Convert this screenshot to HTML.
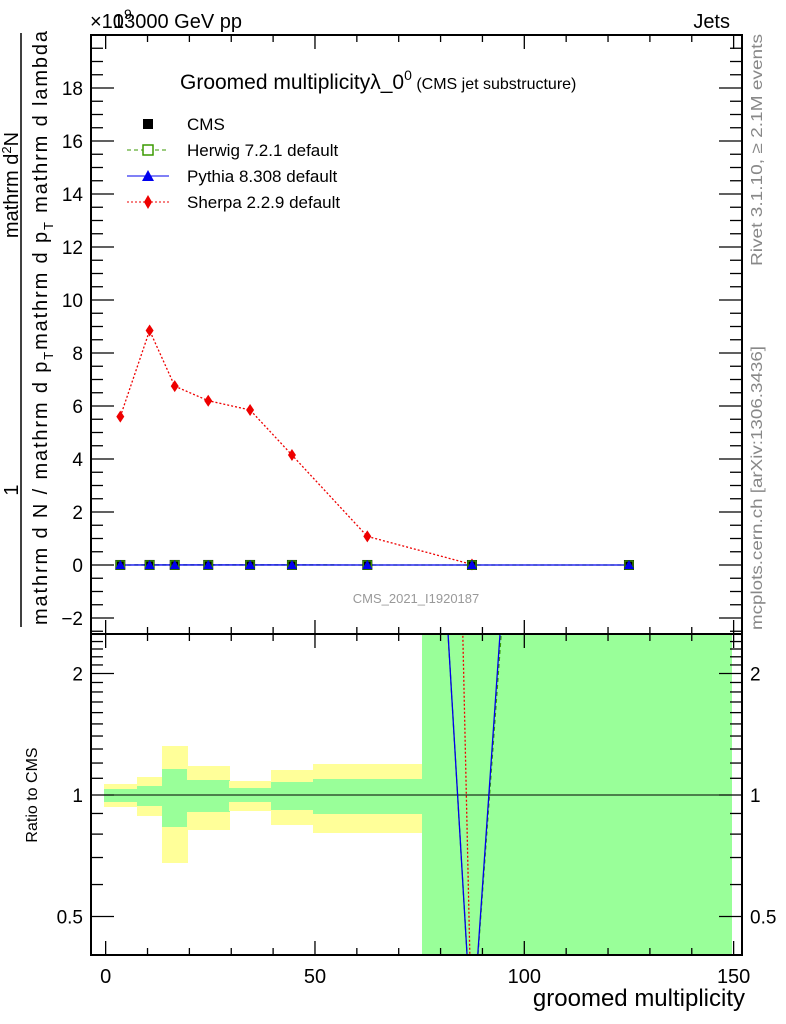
<!DOCTYPE html>
<html><head><meta charset="utf-8"><style>
html,body{margin:0;padding:0;background:#fff}
svg{display:block;font-family:"Liberation Sans",sans-serif}
</style></head><body>
<svg id="c" width="786" height="1024" viewBox="0 0 786 1024" xmlns="http://www.w3.org/2000/svg">
<g id="bands" shape-rendering="crispEdges"></g>
<g id="ratio"></g>
<g id="main"></g>
<g id="axes"></g>
<text x="90" y="28" font-size="20">×10<tspan dy="-9" font-size="14">9</tspan></text>
<text x="113" y="28" font-size="20">13000 GeV pp</text>
<text x="730" y="28" font-size="20" text-anchor="end">Jets</text>
<text x="180" y="89" font-size="21">Groomed multiplicityλ_0<tspan dy="-9" font-size="14">0</tspan><tspan dy="9" font-size="16"> (CMS jet substructure)</tspan></text>
<g>
<rect x="143" y="119" width="10" height="10" fill="#000"/>
<text x="187" y="130" font-size="17">CMS</text>
<line x1="127" y1="150" x2="169" y2="150" stroke="#3a9a00" stroke-dasharray="4,3"/>
<rect x="143" y="145" width="10" height="10" fill="#fff" stroke="#3a9a00" stroke-width="1.5"/>
<text x="187" y="156" font-size="17">Herwig 7.2.1 default</text>
<line x1="127" y1="176" x2="169" y2="176" stroke="#0000ee"/>
<polygon points="148,170 154,181 142,181" fill="#0000ee"/>
<text x="187" y="182" font-size="17">Pythia 8.308 default</text>
<line x1="127" y1="202" x2="169" y2="202" stroke="#ee0000" stroke-dasharray="2,2"/>
<polygon points="148,195 152,202 148,209 144,202" fill="#ee0000"/>
<text x="187" y="208" font-size="17">Sherpa 2.2.9 default</text>
</g>
<text x="416" y="603" font-size="13" fill="#999" text-anchor="middle">CMS_2021_I1920187</text>
<text transform="translate(762,150) rotate(-90)" font-size="16" fill="#888" text-anchor="middle" textLength="232" lengthAdjust="spacingAndGlyphs">Rivet 3.1.10, ≥ 2.1M events</text>
<text transform="translate(762,488) rotate(-90)" font-size="16" fill="#888" text-anchor="middle" textLength="284" lengthAdjust="spacingAndGlyphs">mcplots.cern.ch [arXiv:1306.3436]</text>
<g>
<line x1="21" y1="33" x2="21" y2="627" stroke="#000" stroke-width="1.5"/>
<text transform="translate(18,490) rotate(-90)" font-size="20" text-anchor="middle">1</text>
<text transform="translate(18,185) rotate(-90)" font-size="20" text-anchor="middle">mathrm d<tspan dy="-7" font-size="13">2</tspan><tspan dy="7">N</tspan></text>
<text transform="translate(47,328) rotate(-90)" font-size="20" text-anchor="middle" textLength="594">mathrm d N / mathrm d p<tspan dy="6" font-size="13">T</tspan><tspan dy="-6">mathrm d p</tspan><tspan dy="6" font-size="13">T</tspan><tspan dy="-6"> mathrm d lambda</tspan></text>
</g>
<text transform="translate(37,795) rotate(-90)" font-size="16" text-anchor="middle">Ratio to CMS</text>
<text x="745" y="1006" font-size="24" text-anchor="end">groomed multiplicity</text>
</svg>
<script>
const xCenters=[3.5,10.5,16.5,24.5,34.5,44.5,62.5,87.5,125];
const binEdges=[-0.5,7.5,13.5,19.5,29.5,39.5,49.5,75.5,99.5,149.5];
const cmsValues=[0.001,0.002,0.002,0.002,0.002,0.002,0.001,0.0005,0.0001];
const herwigValues=[0.001,0.002,0.002,0.002,0.002,0.002,0.001,0.0005,0.0001];
const pythiaValues=[0.001,0.002,0.002,0.002,0.002,0.002,0.001,0.0005,0.0001];
const sherpaValues=[5.6,8.85,6.75,6.2,5.85,4.15,1.08,0.02];
const yellowUp=[1.065,1.108,1.322,1.18,1.083,1.153,1.193,1e6,1e6];
const yellowDn=[0.934,0.887,0.678,0.819,0.913,0.843,0.805,1e-6,1e-6];
const greenUp=[1.035,1.053,1.16,1.089,1.041,1.077,1.095,1e6,1e6];
const greenDn=[0.961,0.939,0.833,0.908,0.961,0.918,0.897,1e-6,1e-6];
const herwigRatio=[null,null,null,null,null,null,6000,0.25,60000];
const pythiaRatio=[null,null,null,null,null,null,6000,0.25,100000];
const sherpaRatio=[null,null,null,null,null,null,1.6e11,0.23];
const xTicks=[0,50,100,150];
const yTicks=[-2,0,2,4,6,8,10,12,14,16,18];
const rTicks=[0.5,1,2];

const NS="http://www.w3.org/2000/svg";
const L=91,R=742,T=35,MB=634,RB=955;
const X=v=>L+(v+3.5)/(155.5)*(R-L);
const Y=v=>565-v*26.5;
const RY=v=>795-121.5*Math.log2(v);
function mk(p,tag,a){const e=document.createElementNS(NS,tag);for(const k in a)e.setAttribute(k,a[k]);p.appendChild(e);return e;}
const bands=document.getElementById('bands'),ratio=document.getElementById('ratio'),main=document.getElementById('main'),axes=document.getElementById('axes');
const clamp=(y,a,b)=>Math.max(a,Math.min(b,y));
for(let i=0;i<xCenters.length;i++){
  const x1=Math.round(X(binEdges[i])),x2=Math.round(X(binEdges[i+1]))+(i<xCenters.length-1?1:0);
  let r=mk(bands,'rect',{x:x1,y:clamp(RY(yellowUp[i]),MB,RB),width:x2-x1,height:clamp(RY(yellowDn[i]),MB,RB)-clamp(RY(yellowUp[i]),MB,RB),fill:'#ffff99'});
  
  
  let g=mk(bands,'rect',{x:x1,y:clamp(RY(greenUp[i]),MB,RB),width:x2-x1,height:clamp(RY(greenDn[i]),MB,RB)-clamp(RY(greenUp[i]),MB,RB),fill:'#99ff99'});
  
  
}
mk(bands,'line',{x1:L,y1:RY(1),x2:R,y2:RY(1),stroke:'#000','stroke-width':1.2});
mk(ratio,'clipPath',{id:'rc'});
mk(document.getElementById('rc'),'rect',{x:L,y:MB,width:R-L,height:RB-MB});
function rline(vals,col,dash,name){
  const p=vals.map((v,i)=>v==null?null:X(xCenters[i])+','+RY(v)).filter(s=>s).join(' ');
  const e=mk(ratio,'polyline',{points:p,fill:'none',stroke:col,'stroke-width':1.3,'stroke-dasharray':dash,'clip-path':'url(#rc)'});
  
  
}
rline(herwigRatio,'#3a9a00','4,3','herwig-ratio-line');
rline(pythiaRatio,'#0000ee','none','pythia-ratio-line');
rline(sherpaRatio,'#ee0000','2,2','sherpa-ratio-line');
function line(vals,col,dash,name){
  const p=vals.map((v,i)=>X(xCenters[i])+','+Y(v)).join(' ');
  const e=mk(main,'polyline',{points:p,fill:'none',stroke:col,'stroke-width':1.3,'stroke-dasharray':dash});
  
  
}
line(sherpaValues,'#ee0000','2,2','sherpa-line');
line(herwigValues,'#3a9a00','4,3','herwig-line');
line(pythiaValues,'#0000ee','none','pythia-line');
sherpaValues.forEach((v,i)=>{const x=X(xCenters[i]),y=Y(v);
  const e=mk(main,'polygon',{points:`${x},${y-6} ${x+4},${y} ${x},${y+6} ${x-4},${y}`,fill:'#ee0000'});
  
  });
cmsValues.forEach((v,i)=>{const x=X(xCenters[i]),y=Y(v);
  const e=mk(main,'rect',{x:x-5,y:y-5,width:10,height:10,fill:'#000'});
  
  
  const h=mk(main,'rect',{x:x-4,y:y-4,width:8,height:8,fill:'none',stroke:'#3a9a00','stroke-width':1.3});
  
  });
pythiaValues.forEach((v,i)=>{const x=X(xCenters[i]),y=Y(v);
  const e=mk(main,'polygon',{points:`${x},${y-5} ${x+5},${y+4} ${x-5},${y+4}`,fill:'#0000ee'});
  
  });
mk(axes,'rect',{x:L,y:T,width:R-L,height:MB-T,fill:'none',stroke:'#000','stroke-width':2});
mk(axes,'rect',{x:L,y:MB,width:R-L,height:RB-MB,fill:'none',stroke:'#000','stroke-width':2});
const tk=(x1,y1,x2,y2)=>mk(axes,'line',{x1,y1,x2,y2,stroke:'#000','stroke-width':1.3});
const tx=(x,y,s,a,fs)=>{const e=mk(axes,'text',{x,y,'font-size':fs||18,'text-anchor':a||'middle'});e.textContent=s;return e;};
for(let v=0;v<=150;v+=10){const x=X(v),big=v%50===0,l=big?14:7;
  [T,MB].forEach(y=>tk(x,y,x,y+l));[MB,RB].forEach(y=>tk(x,y,x,y-l));}
xTicks.forEach(v=>{const e=tx(X(v),983,String(v),'middle',20);});
for(let v=-2.5;v<=20;v+=0.5){const y=Y(v);if(y<T||y>MB)continue;const big=Math.abs(v%2)<1e-9,l=big?23:12;tk(L,y,L+l,y);tk(R,y,R-l,y);}
yTicks.forEach(v=>{const e=tx(83,Y(v)+7,v<0?'−'+(-v):String(v),'end',19);});
for(let v=0.4;v<=2.51;v+=0.1){const y=RY(v);if(y<MB||y>RB)continue;const big=rTicks.some(t=>Math.abs(t-v)<1e-6),l=big?23:12;tk(L,y,L+l,y);tk(R,y,R-l,y);}
rTicks.forEach(v=>{const a=tx(83,RY(v)+7,String(v),'end',19);
  const b=tx(750,RY(v)+7,String(v),'start',19);});
</script>
</body></html>
